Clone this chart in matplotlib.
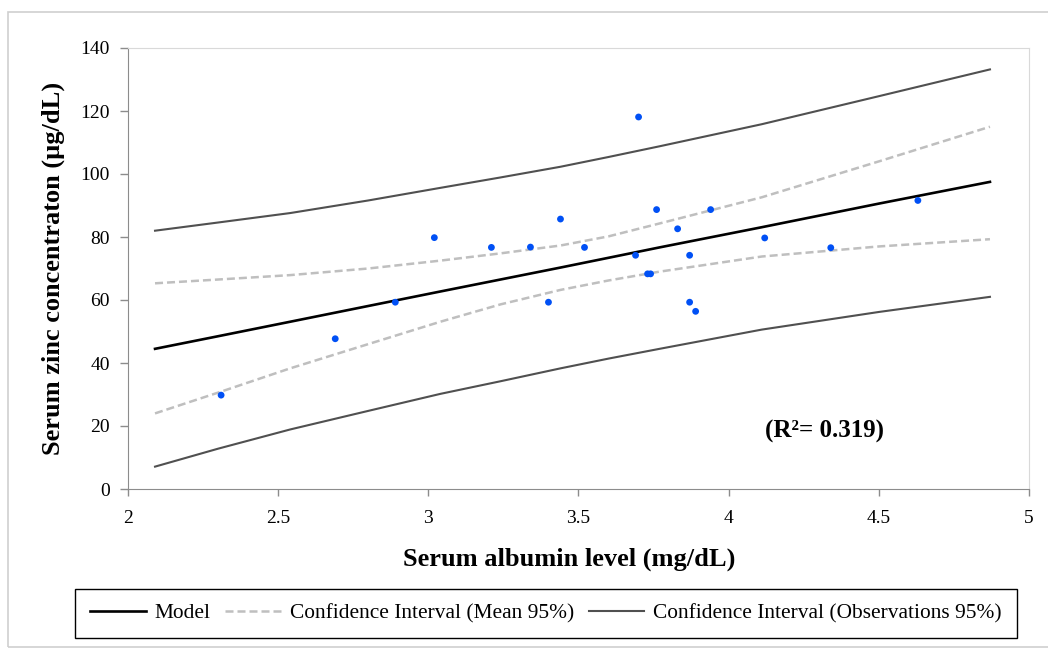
import matplotlib
matplotlib.use('Agg')
import matplotlib.pyplot as plt
from matplotlib.patches import Rectangle

# observed points (serum albumin, serum zinc)
albumin = [2.31, 2.69, 2.89, 3.02, 3.21, 3.34, 3.40, 3.44, 3.52, 3.69, 3.70,
           3.73, 3.74, 3.76, 3.83, 3.87, 3.87, 3.89, 3.94, 4.12, 4.34, 4.63]
zinc = [29.8, 47.7, 59.3, 79.8, 76.7, 76.8, 59.3, 85.7, 76.7, 74.2, 118.1,
        68.3, 68.3, 88.7, 82.6, 74.2, 59.3, 56.4, 88.7, 79.7, 76.6, 91.6]

# model line and confidence bands
x_curve = [2.09, 2.30, 2.54, 2.80, 3.04, 3.24, 3.44, 3.60, 3.77, 4.11, 4.50, 4.87]
model = [44.5, 48.5, 53.1, 58.1, 62.7, 66.5, 70.3, 73.4, 76.7, 83.1, 90.6, 97.5]
mean_upper = [65.3, 66.5, 67.9, 70.0, 72.5, 74.8, 77.3, 80.2, 84.3, 92.6, 104.0, 115.0]
mean_lower = [24.0, 30.6, 38.3, 46.0, 53.1, 58.6, 63.2, 66.2, 69.0, 73.8, 77.0, 79.3]
obs_upper = [82.0, 84.6, 87.6, 91.6, 95.6, 98.9, 102.3, 105.4, 108.8, 115.8, 124.7, 133.2]
obs_lower = [7.1, 12.8, 18.9, 24.8, 30.2, 34.2, 38.3, 41.4, 44.5, 50.6, 56.2, 61.0]

x_ticks = [2, 2.5, 3, 3.5, 4, 4.5, 5]
x_tick_labels = ['2', '2.5', '3', '3.5', '4', '4.5', '5']
y_ticks = [0, 20, 40, 60, 80, 100, 120, 140]

plt.rcParams['font.family'] = ['Liberation Serif', 'DejaVu Serif']

fig = plt.figure(figsize=(10.48, 6.5), dpi=100)
ax = fig.add_axes([128 / 1048, 1 - 489 / 650, (1029 - 128) / 1048, (489 - 48) / 650])

ax.plot(x_curve, model, color='black', lw=1.9, label='Model', zorder=3)
ax.plot(x_curve, mean_upper, color='#bfbfbf', lw=1.8, dashes=(3.2, 1.6),
        label='Confidence Interval (Mean 95%)', zorder=2)
ax.plot(x_curve, mean_lower, color='#bfbfbf', lw=1.8, dashes=(3.2, 1.6), zorder=2)
ax.plot(x_curve, obs_upper, color='#505050', lw=1.5,
        label='Confidence Interval (Observations 95%)', zorder=2)
ax.plot(x_curve, obs_lower, color='#505050', lw=1.5, zorder=2)
ax.scatter(albumin, zinc, s=24, color='#0050f5', edgecolors='none', zorder=4)

ax.set_xlim(2, 5)
ax.set_ylim(0, 140)
ax.set_xticks(x_ticks)
ax.set_xticklabels(x_tick_labels)
ax.set_yticks(y_ticks)
ax.tick_params(axis='both', labelsize=14, colors='#8c8c8c', labelcolor='black')
ax.tick_params(axis='y', length=6, width=1, pad=7)
ax.tick_params(axis='x', length=5, width=1, pad=10)

for side in ['left', 'bottom']:
    ax.spines[side].set_color('#8c8c8c')
for side in ['top', 'right']:
    ax.spines[side].set_color('#d9d9d9')

ax.set_xlabel('Serum albumin level (mg/dL)', fontsize=19, fontweight='bold')
ax.xaxis.set_label_coords(0.49, -0.132)
ax.set_ylabel('Serum zinc concentraton (µg/dL)', fontsize=19, fontweight='bold', labelpad=11)

ax.text(4.32, 18.3, '(R²= 0.319)', fontsize=18, fontweight='bold', ha='center', va='center')

leg = fig.legend(loc='center', bbox_to_anchor=(546 / 1048, 1 - 613.5 / 650), ncol=3,
                 fontsize=15.4, frameon=True, fancybox=False, framealpha=1,
                 handlelength=2.6, handletextpad=0.4, columnspacing=0.7,
                 borderpad=0.7)
leg.get_frame().set_edgecolor('black')
leg.get_frame().set_linewidth(1.0)

# light outer frame of the figure panel
fig.patches.append(Rectangle((8 / 1048, 1 - 647 / 650), 1.0, (647 - 12) / 650,
                             transform=fig.transFigure, fill=False,
                             edgecolor='#cfcfcf', lw=1.2))

fig.savefig('out.png', dpi=100)
